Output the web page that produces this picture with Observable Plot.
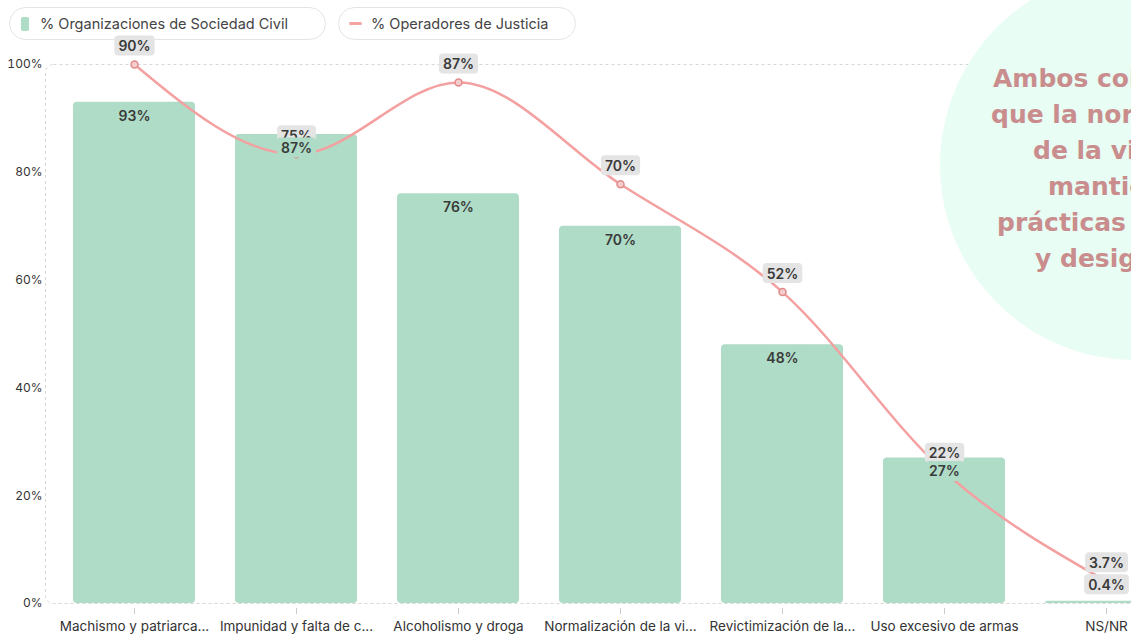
<!DOCTYPE html>
<html>
<head>
<meta charset="utf-8">
<script src="https://cdn.jsdelivr.net/npm/d3@7"></script>
<script src="https://cdn.jsdelivr.net/npm/@observablehq/plot@0.6"></script>
<style>
  html, body { margin: 0; padding: 0; background: #fff; }
  #wrap { position: relative; width: 1131px; height: 635px; overflow: hidden; font-family: Inter, "Noto Sans", sans-serif; }
  #chart { position: absolute; left: 0; top: 0; width: 1200px; }
  #chart svg { max-width: none !important; width: 1200px; height: 635px; }
  .pill { position: absolute; top: 7px; height: 33px; border: 1px solid #e4e4e4; border-radius: 17px; box-sizing: border-box; display: flex; align-items: center; font-size: 14.5px; color: #444; white-space: nowrap; }
  .sw-bar { width: 8px; height: 14px; border-radius: 2px; background: #aedcc6; margin: 0 11px 0 11px; }
  .sw-line { width: 13px; height: 2.5px; border-radius: 2px; background: #f5a3a3; margin: 0 9px 0 10px; }
  #bubble { position: absolute; left: 940px; top: -30px; width: 390px; height: 390px; border-radius: 50%; background: #e8fdf3; }
  .btxt { position: absolute; font-family: "DejaVu Sans", sans-serif; font-weight: bold; font-size: 25px; color: #c98d8d; white-space: nowrap; line-height: 1; }
</style>
</head>
<body>
<div id="wrap">
  <div id="chart"></div>
  <div class="pill" style="left:9px;width:317px;"><div class="sw-bar"></div><span id="lg1"></span></div>
  <div class="pill" style="left:338px;width:238px;"><div class="sw-line"></div><span id="lg2"></span></div>
  <div id="bubble"></div>
  <div id="btext"></div>
</div>
<script>
// ---- data ----
const categories = [
  "Machismo y patriarca...",
  "Impunidad y falta de c...",
  "Alcoholismo y droga",
  "Normalización de la vi...",
  "Revictimización de la...",
  "Uso excesivo de armas",
  "NS/NR"
];
const sociedadCivil = [93, 87, 76, 70, 48, 27, 0.4];
const operadoresJusticia = [90, 75, 87, 70, 52, 22, 3.7];
const yTicks = [0, 20, 40, 60, 80, 100];
const seriesNames = ["% Organizaciones de Sociedad Civil", "% Operadores de Justicia"];
const noteLines = ["Ambos coinciden en", "que la normalización", "de la violencia", "mantienen las", "prácticas machistas", "y desigualdades"];
const noteStarts = [993, 991, 1033, 1048, 997, 1035];

// ---- colours ----
const barColor = "#aedcc6";
const lineColor = "#f4a0a0";
const greyBox = "#e4e4e4";

document.getElementById("lg1").textContent = seriesNames[0];
document.getElementById("lg2").textContent = seriesNames[1];

const data = categories.map((c, i) => ({cat: c, osc: sociedadCivil[i], jus: operadoresJusticia[i]}));
const jusMax = d3.max(operadoresJusticia);
// secondary axis: justice series is scaled to its own maximum
const jusY = d => d.jus / jusMax * 100;
const pct = v => v + "%";

const plot = Plot.plot({
  width: 1200,
  height: 635,
  marginTop: 64,
  marginBottom: 32,
  marginLeft: 45,
  marginRight: 5,
  style: {fontFamily: "Inter, 'Noto Sans', sans-serif", color: "#333", background: "transparent", maxWidth: "none"},
  x: {domain: categories, type: "band", paddingInner: 0.25, paddingOuter: 0.16, label: null},
  y: {domain: [0, 100], label: null},
  marks: [
    Plot.frame({rx: 8, stroke: "#d6d6d6", strokeDasharray: "3,3"}),
    Plot.axisY({ticks: yTicks, tickFormat: pct, tickSize: 0, tickPadding: 3, fontSize: 12, fill: "#333"}),
    Plot.axisX({tickSize: 6, dy: 5, tickFormat: () => "", stroke: "#ccc"}),
    Plot.axisX({tickSize: 0, tickPadding: 18, fontSize: 13.5, fill: "#333"}),
    Plot.barY(data, {x: "cat", y: "osc", fill: barColor, rx: 4}),
    Plot.line(data, {x: "cat", y: jusY, stroke: lineColor, strokeWidth: 2.5, curve: "monotone-x"}),
    Plot.dot(data, {x: "cat", y: jusY, r: 3.5, fill: "#f7cccc", stroke: "#e08a8a", strokeWidth: 1.5}),
    Plot.text(data, {x: "cat", y: jusY, text: d => pct(d.jus), dy: -18, fontSize: 14, fontWeight: 600, fill: "#3a3a3a", className: "lbl-grey"}),
    Plot.text(data.filter(d => d.osc >= 5), {x: "cat", y: "osc", text: d => pct(d.osc), dy: 14, fontSize: 14, fontWeight: 600, fill: "#3a3a3a", className: "lbl-bar"}),
    Plot.text(data.filter(d => d.osc < 5), {x: "cat", y: "osc", text: d => pct(d.osc), dy: -16, fontSize: 14, fontWeight: 600, fill: "#3a3a3a", className: "lbl-grey"})
  ]
});
document.getElementById("chart").appendChild(plot);

// label backgrounds
function addBoxes(cls, fill) {
  plot.querySelectorAll("g." + cls).forEach(g => {
    Array.from(g.querySelectorAll("text")).forEach(t => {
      const b = t.getBBox();
      const r = document.createElementNS("http://www.w3.org/2000/svg", "rect");
      r.setAttribute("x", b.x - 4);
      r.setAttribute("y", b.y - 1.5);
      r.setAttribute("width", b.width + 8);
      r.setAttribute("height", b.height + 3);
      r.setAttribute("rx", 4);
      r.setAttribute("fill", fill);
      const tr = t.getAttribute("transform");
      if (tr) r.setAttribute("transform", tr);
      g.insertBefore(r, t);
    });
  });
}
addBoxes("lbl-grey", greyBox);
addBoxes("lbl-bar", barColor);

// annotation bubble text
const bt = document.getElementById("btext");
noteLines.forEach((s, i) => {
  const d = document.createElement("div");
  d.className = "btxt";
  d.textContent = s;
  d.style.left = noteStarts[i] + "px";
  d.style.top = (66 + i * 36) + "px";
  bt.appendChild(d);
});
</script>
</body>
</html>
